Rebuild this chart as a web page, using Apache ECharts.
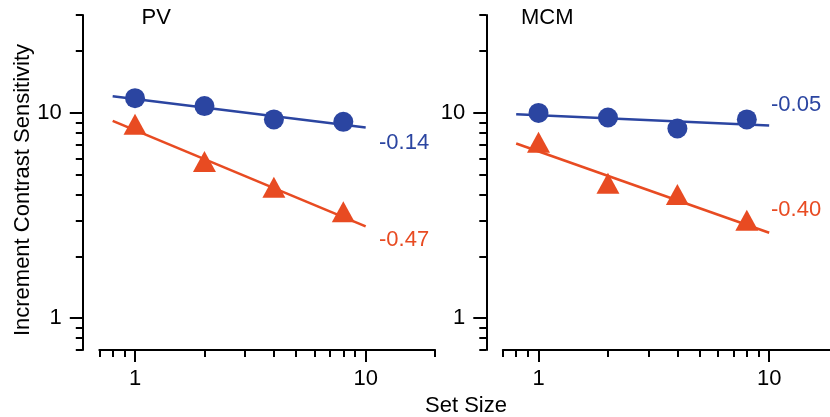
<!DOCTYPE html>
<html>
<head>
<meta charset="utf-8">
<script src="https://cdn.jsdelivr.net/npm/echarts@6/dist/echarts.min.js"></script>
<style>
  html, body { margin: 0; padding: 0; background: #fff; }
  #chart { width: 830px; height: 417px; }
</style>
</head>
<body>
<div id="chart"></div>
<script>
// set sizes tested
const setSize = [1, 2, 4, 8];
// PV panel
const pvBlue = [11.8, 10.8, 9.3, 9.05];
const pvRed = [8.8, 5.8, 4.35, 3.3];
// MCM panel
const mcmBlue = [10.0, 9.5, 8.4, 9.3];
const mcmRed = [7.2, 4.55, 4.0, 3.0];
// power-law fits, drawn from 0.8 to 10
const fitX = [0.8, 10];
const pvBlueFit = [12.06, 8.5];
const pvRedFit = [9.15, 2.8];
const mcmBlueFit = [9.86, 8.68];
const mcmRedFit = [7.1, 2.61];
const slopes = { pvBlue: '-0.14', pvRed: '-0.47', mcmBlue: '-0.05', mcmRed: '-0.40' };

// axis ticks
const majorTicks = [1, 10];
const xMinorTicks = [0.7, 0.8, 0.9, 2, 3, 4, 5, 6, 7, 8, 9, 20];
const yMinorTicks = [0.7, 0.8, 0.9, 2, 3, 4, 5, 6, 7, 8, 9, 20, 30];

const BLUE = '#2b45a1';
const RED = '#e84b22';
const FONT = "'Liberation Sans', Arial, Helvetica, sans-serif";

const pairs = (xs, ys) => xs.map((x, i) => [x, ys[i]]);

function xAxes(gridIndex) {
    return [{
        type: 'log', gridIndex, min: 0.7, max: 20, position: 'bottom',
        axisLine: { lineStyle: { color: '#000', width: 2 } },
        axisTick: { customValues: majorTicks, length: 12, lineStyle: { color: '#000', width: 2 } },
        axisLabel: { customValues: majorTicks, color: '#000', fontSize: 22, fontFamily: FONT, margin: 18 },
        splitLine: { show: false }
    }, {
        type: 'log', gridIndex, min: 0.7, max: 20, position: 'bottom',
        axisLine: { show: false },
        axisTick: { customValues: xMinorTicks, length: 7, lineStyle: { color: '#000', width: 2 } },
        axisLabel: { show: false },
        splitLine: { show: false }
    }];
}

function yAxes(gridIndex) {
    return [{
        type: 'log', gridIndex, min: 0.7, max: 30, position: 'left', offset: 16.5,
        axisLine: { lineStyle: { color: '#000', width: 2 } },
        axisTick: { customValues: majorTicks, length: 13, lineStyle: { color: '#000', width: 2 } },
        axisLabel: { customValues: majorTicks, color: '#000', fontSize: 22, fontFamily: FONT, margin: 21 },
        splitLine: { show: false }
    }, {
        type: 'log', gridIndex, min: 0.7, max: 30, position: 'left', offset: 16.5,
        axisLine: { show: false },
        axisTick: { customValues: yMinorTicks, length: 7, lineStyle: { color: '#000', width: 2 } },
        axisLabel: { show: false },
        splitLine: { show: false }
    }];
}

function panel(ax, blue, red, blueFit, redFit) {
    return [
        { type: 'line', xAxisIndex: ax, yAxisIndex: ax, data: pairs(fitX, blueFit), symbol: 'none',
          lineStyle: { color: BLUE, width: 2.6 }, z: 2 },
        { type: 'line', xAxisIndex: ax, yAxisIndex: ax, data: pairs(fitX, redFit), symbol: 'none',
          lineStyle: { color: RED, width: 2.6 }, z: 2 },
        { type: 'scatter', xAxisIndex: ax, yAxisIndex: ax, data: pairs(setSize, blue), symbol: 'circle',
          symbolSize: 20, itemStyle: { color: BLUE, opacity: 1 }, z: 3 },
        { type: 'scatter', xAxisIndex: ax, yAxisIndex: ax, data: pairs(setSize, red), symbol: 'triangle',
          symbolSize: [23, 21], itemStyle: { color: RED, opacity: 1 }, z: 3 }
    ];
}

function txt(text, x, y, color, extra) {
    return Object.assign({
        type: 'text', x, y,
        style: { text, fill: color || '#000', font: '22px ' + FONT, textVerticalAlign: 'middle' }
    }, extra || {});
}

const chart = echarts.init(document.getElementById('chart'), null, { renderer: 'canvas' });
chart.setOption({
    animation: false,
    grid: [
        { left: 99.3, top: 15, width: 335.8, height: 335, outerBoundsMode: 'none' },
        { left: 502.8, top: 15, width: 335.8, height: 335, outerBoundsMode: 'none' }
    ],
    xAxis: [...xAxes(0), ...xAxes(1)],
    yAxis: [...yAxes(0), ...yAxes(1)],
    series: [
        ...panel(0, pvBlue, pvRed, pvBlueFit, pvRedFit),
        ...panel(2, mcmBlue, mcmRed, mcmBlueFit, mcmRedFit)
    ],
    graphic: [
        txt('PV', 141.5, 18),
        txt('MCM', 521, 18),
        txt(slopes.pvBlue, 379, 143, BLUE),
        txt(slopes.pvRed, 379, 240, RED),
        txt(slopes.mcmBlue, 771, 105, BLUE),
        txt(slopes.mcmRed, 771, 210, RED),
        {
            type: 'text', x: 466, y: 406,
            style: { text: 'Set Size', fill: '#000', font: '22px ' + FONT, textAlign: 'center', textVerticalAlign: 'middle' }
        },
        {
            type: 'text', x: 23, y: 190, rotation: Math.PI / 2,
            style: { text: 'Increment Contrast Sensitivity', fill: '#000', font: '22px ' + FONT, textAlign: 'center', textVerticalAlign: 'middle' }
        }
    ]
});
window.addEventListener('resize', function () {
    chart.resize();
});
</script>
</body>
</html>
